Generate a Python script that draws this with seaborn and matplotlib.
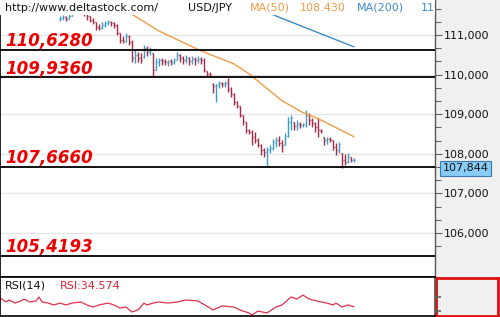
import matplotlib
matplotlib.use("Agg")
import matplotlib.pyplot as plt
import matplotlib.transforms as mtransforms
from matplotlib.ticker import FuncFormatter, FixedLocator
from matplotlib.patches import Rectangle
import numpy as np
import pandas as pd
import seaborn as sns

# ---------------- data ----------------
bar_index = list(range(20, 119))
opens = [111.40, 111.43, 111.46, 111.40, 111.48, 111.58, 111.63, 111.66, 111.61, 111.53,
         111.48, 111.38, 111.33, 111.20, 111.18, 111.25, 111.30, 111.33, 111.30, 111.25,
         111.05, 110.87, 110.85, 110.97, 110.82, 110.42, 110.50, 110.42, 110.45, 110.67,
         110.57, 110.55, 110.12, 110.32, 110.37, 110.34, 110.32, 110.34, 110.32, 110.37,
         110.50, 110.42, 110.37, 110.42, 110.34, 110.39, 110.37, 110.39, 110.37, 110.09,
         110.02, 109.76, 109.71, 109.74, 109.79, 109.76, 109.79, 109.64, 109.51, 109.31,
         109.21, 108.98, 108.80, 108.60, 108.55, 108.42, 108.35, 108.22, 108.10, 108.05,
         108.10, 108.15, 108.30, 108.35, 108.27, 108.22, 108.45, 108.80, 108.80, 108.70,
         108.75, 108.73, 108.75, 108.98, 108.85, 108.78, 108.68, 108.60, 108.42, 108.35,
         108.37, 108.35, 108.17, 108.10, 108.02, 107.84, 107.79, 107.92, 107.84]
highs = [111.48, 111.51, 111.48, 111.53, 111.63, 111.68, 111.71, 111.66, 111.63, 111.53,
         111.48, 111.43, 111.33, 111.28, 111.33, 111.35, 111.38, 111.35, 111.33, 111.28,
         111.05, 110.97, 111.05, 111.00, 110.87, 110.62, 110.57, 110.55, 110.75, 110.72,
         110.70, 110.55, 110.42, 110.42, 110.42, 110.39, 110.37, 110.39, 110.42, 110.57,
         110.52, 110.47, 110.50, 110.45, 110.47, 110.45, 110.47, 110.45, 110.42, 110.09,
         110.07, 109.79, 109.76, 109.84, 109.81, 109.84, 109.91, 109.69, 109.54, 109.33,
         109.21, 108.98, 108.80, 108.63, 108.60, 108.55, 108.40, 108.25, 108.15, 108.17,
         108.22, 108.37, 108.42, 108.45, 108.35, 108.53, 108.93, 108.98, 108.80, 108.85,
         108.80, 108.78, 109.11, 109.03, 108.90, 108.80, 108.90, 108.63, 108.42, 108.42,
         108.42, 108.35, 108.27, 108.30, 108.02, 108.00, 108.02, 107.92, 107.89]
lows = [111.35, 111.38, 111.35, 111.40, 111.48, 111.53, 111.56, 111.53, 111.48, 111.38,
        111.33, 111.28, 111.13, 111.13, 111.15, 111.20, 111.25, 111.23, 111.18, 111.00,
        110.80, 110.80, 110.82, 110.75, 110.32, 110.29, 110.32, 110.29, 110.42, 110.47,
        110.50, 109.94, 110.12, 110.22, 110.24, 110.24, 110.22, 110.24, 110.27, 110.37,
        110.32, 110.27, 110.29, 110.24, 110.27, 110.24, 110.29, 110.27, 110.07, 109.97,
        109.94, 109.54, 109.31, 109.66, 109.69, 109.69, 109.56, 109.43, 109.23, 109.16,
        108.93, 108.73, 108.53, 108.50, 108.22, 108.27, 108.17, 107.97, 107.92, 107.67,
        108.02, 108.10, 108.17, 108.20, 108.05, 108.22, 108.42, 108.60, 108.60, 108.60,
        108.65, 108.68, 108.68, 108.73, 108.68, 108.55, 108.42, 108.53, 108.22, 108.25,
        108.30, 108.10, 107.97, 108.02, 107.64, 107.72, 107.77, 107.79, 107.79]
closes = [111.43, 111.46, 111.40, 111.48, 111.58, 111.63, 111.66, 111.61, 111.56, 111.48,
          111.38, 111.33, 111.20, 111.18, 111.25, 111.30, 111.33, 111.30, 111.25, 111.05,
          110.87, 110.85, 110.97, 110.82, 110.42, 110.50, 110.42, 110.37, 110.67, 110.57,
          110.62, 110.12, 110.32, 110.37, 110.34, 110.32, 110.34, 110.32, 110.37, 110.50,
          110.42, 110.37, 110.42, 110.34, 110.39, 110.37, 110.39, 110.37, 110.12, 110.02,
          109.99, 109.71, 109.74, 109.79, 109.76, 109.79, 109.64, 109.51, 109.31, 109.21,
          108.98, 108.83, 108.60, 108.55, 108.42, 108.35, 108.22, 108.10, 108.05, 108.10,
          108.15, 108.30, 108.35, 108.27, 108.22, 108.45, 108.80, 108.90, 108.70, 108.75,
          108.73, 108.75, 108.98, 108.85, 108.78, 108.68, 108.60, 108.58, 108.35, 108.37,
          108.35, 108.17, 108.10, 108.25, 107.84, 107.79, 107.94, 107.84, 107.844]

ma50_x = [38, 46, 53, 67, 78, 83, 94, 101, 106, 118]
ma50_v = [111.80, 111.43, 111.10, 110.60, 110.27, 110.02, 109.34, 109.04, 108.89, 108.43]
ma200_x = [85, 93, 106, 118]
ma200_v = [111.70, 111.45, 111.06, 110.70]

rsi_x = [0, 2, 3, 5, 7, 8, 10, 12, 13, 14, 16, 18, 20, 22, 24, 27, 29, 31, 33, 36, 38, 40,
         42, 44, 46, 48, 49, 51, 53, 56, 59, 62, 66, 70, 71, 74, 78, 80, 83, 84, 86, 89,
         92, 94, 97, 99, 101, 103, 107, 109, 111, 112, 114, 116, 118]
rsi_v = [43.5, 39.4, 41.4, 38.3, 40.4, 42.4, 39.4, 40.4, 44.5, 39.4, 38.3, 36.3, 38.3,
         36.3, 38.3, 39.4, 36.3, 34.2, 36.3, 38.3, 36.3, 33.2, 34.2, 29.1, 31.2, 38.3, 36.3,
         38.3, 39.4, 38.3, 39.4, 41.4, 40.4, 33.2, 31.2, 35.3, 34.2, 31.2, 28.1, 26.0, 30.1,
         28.1, 34.2, 36.3, 44.5, 42.4, 46.5, 42.4, 39.4, 38.3, 36.3, 38.3, 34.2, 36.3, 34.57]

levels = [110.6280, 109.9360, 107.6660, 105.4193]
level_labels = ["110,6280", "109,9360", "107,6660", "105,4193"]
major_ticks = [106, 107, 108, 109, 110, 111]
last_price = 107.844

# ---------------- styling ----------------
sns.set_theme(style="white")
plt.rcParams["font.family"] = ["DejaVu Sans"]

UP = "#3d9cc6"
DOWN = "#a32d45"
ORANGE = "#f09a44"
BLUE = "#3a8cc4"
RSI_RED = "#e0304a"

fig = plt.figure(figsize=(5.0, 3.17), dpi=100)
split = 1 - 277 / 317
right_x = 435 / 500

bg = fig.add_axes([right_x, split, 1 - right_x, 1 - split], zorder=0)
bg.set_facecolor("#f0f0f0")
bg.set_xticks([]); bg.set_yticks([])
for s in bg.spines.values():
    s.set_visible(False)

ax = fig.add_axes([0, split, right_x, 1 - split], zorder=2)
ax.set_facecolor("white")
ax.set_xlim(0, 145)
ax.set_ylim(104.889, 111.884)

# gridlines
for t in major_ticks:
    ax.axhline(t, color="#e4e4e4", lw=0.9, zorder=0.5)

# OHLC bars
df = pd.DataFrame({"i": bar_index, "o": opens, "h": highs, "l": lows, "c": closes})
cols = [UP if c >= o else DOWN for o, c in zip(df["o"], df["c"])]
ax.vlines(df["i"], df["l"], df["h"], colors=cols, lw=1.0, zorder=2)
ax.hlines(df["o"], df["i"] - 0.45, df["i"], colors=cols, lw=1.0, zorder=2)
ax.hlines(df["c"], df["i"], df["i"] + 0.45, colors=cols, lw=1.0, zorder=2)

# moving averages
sns.lineplot(x=ma50_x, y=ma50_v, ax=ax, color=ORANGE, lw=1.0, zorder=3, sort=False)
sns.lineplot(x=ma200_x, y=ma200_v, ax=ax, color=BLUE, lw=1.0, zorder=3, sort=False)

# level lines and labels
for lv, lb in zip(levels, level_labels):
    ax.axhline(lv, color="black", lw=1.3, zorder=4)
    ax.text(1.6, lv + 0.09, lb, color="#ee0000", fontsize=12, fontweight="bold",
            fontstyle="italic", va="baseline", ha="left", zorder=6)

# header band
ax.add_patch(Rectangle((0, 1 - 15 / 277), 1, 15 / 277, transform=ax.transAxes,
                       facecolor="white", edgecolor="none", zorder=5))
hy = 1 - 8 / 277
ax.text(5 / 435, hy, "http://www.deltastock.com/", transform=ax.transAxes, fontsize=8,
        color="#111111", va="center", ha="left", zorder=6)
ax.text(188 / 435, hy, "USD/JPY", transform=ax.transAxes, fontsize=8,
        color="#111111", va="center", ha="left", zorder=6)
ax.text(250 / 435, hy, "MA(50)", transform=ax.transAxes, fontsize=8,
        color=ORANGE, va="center", ha="left", zorder=6)
ax.text(300 / 435, hy, "108.430", transform=ax.transAxes, fontsize=8,
        color=ORANGE, va="center", ha="left", zorder=6)
ax.text(357 / 435, hy, "MA(200)", transform=ax.transAxes, fontsize=8,
        color=BLUE, va="center", ha="left", zorder=6)
ax.text(421 / 435, hy, "110.697", transform=ax.transAxes, fontsize=8,
        color=BLUE, va="center", ha="left", zorder=6, clip_on=True)

# axis styling
ax.set_xticks([])
ax.yaxis.tick_right()
ax.yaxis.set_major_locator(FixedLocator(major_ticks))
ax.yaxis.set_minor_locator(FixedLocator(list(np.round(np.arange(105 + 2 / 3, 111.9, 1 / 3), 4))))
ax.yaxis.set_major_formatter(FuncFormatter(lambda v, p: f"{v:.3f}".replace(".", ",")))
ax.tick_params(axis="y", which="major", direction="out", length=5, width=0.8,
               color="#666666", labelsize=8, pad=1, labelcolor="#111111")
ax.tick_params(axis="y", which="minor", direction="out", length=4, width=0.8, color="#666666")
ax.spines["left"].set_color("black"); ax.spines["left"].set_linewidth(1.2)
ax.spines["right"].set_color("#555555"); ax.spines["right"].set_linewidth(1.0)
ax.spines["top"].set_visible(False)
ax.spines["bottom"].set_color("black"); ax.spines["bottom"].set_linewidth(1.4)

# last price box (drawn just below the price so it clears the 108,000 label)
trans = mtransforms.blended_transform_factory(ax.transAxes, ax.transData)
ax.text(1.017, 107.63, f"{last_price:.3f}".replace(".", ","), transform=trans,
        fontsize=8, color="#111111", va="center", ha="left", zorder=7, clip_on=False,
        bbox=dict(boxstyle="square,pad=0.2", facecolor="#87cdf5", edgecolor="#3a78b0", lw=0.8))

# ---------------- RSI panel ----------------
rax = fig.add_axes([0, 1 / 317, right_x, 39 / 317], zorder=2)
rax.set_facecolor("white")
sns.lineplot(x=rsi_x, y=rsi_v, ax=rax, color=RSI_RED, lw=0.9, sort=False)
rax.set_xlim(0, 145)
rax.set_ylim(25, 65)
rax.set_xticks([])
rax.yaxis.tick_right()
rax.set_yticks([45, 30])
rax.set_yticklabels([])
rax.tick_params(axis="y", direction="out", length=4, color="#666666")
rax.set_xlabel(""); rax.set_ylabel("")
ax.set_xlabel(""); ax.set_ylabel("")
for s in ["top", "bottom", "left"]:
    rax.spines[s].set_color("black"); rax.spines[s].set_linewidth(1.2)
rax.spines["right"].set_color("#555555")
rax.text(5 / 435, 1 - 9 / 39, "RSI(14)", transform=rax.transAxes, fontsize=8,
         color="#111111", va="center", ha="left")
rax.text(60 / 435, 1 - 9 / 39, "RSI:34.574", transform=rax.transAxes, fontsize=8,
         color="#dd2233", va="center", ha="left")

rbg = fig.add_axes([436 / 500, 1.5 / 317, 62 / 500, 38 / 317], zorder=1)
rbg.set_facecolor("#f0f0f0")
rbg.set_xticks([]); rbg.set_yticks([])
for s in rbg.spines.values():
    s.set_color("#e01010"); s.set_linewidth(2)

fig.savefig("out.png", dpi=100)
